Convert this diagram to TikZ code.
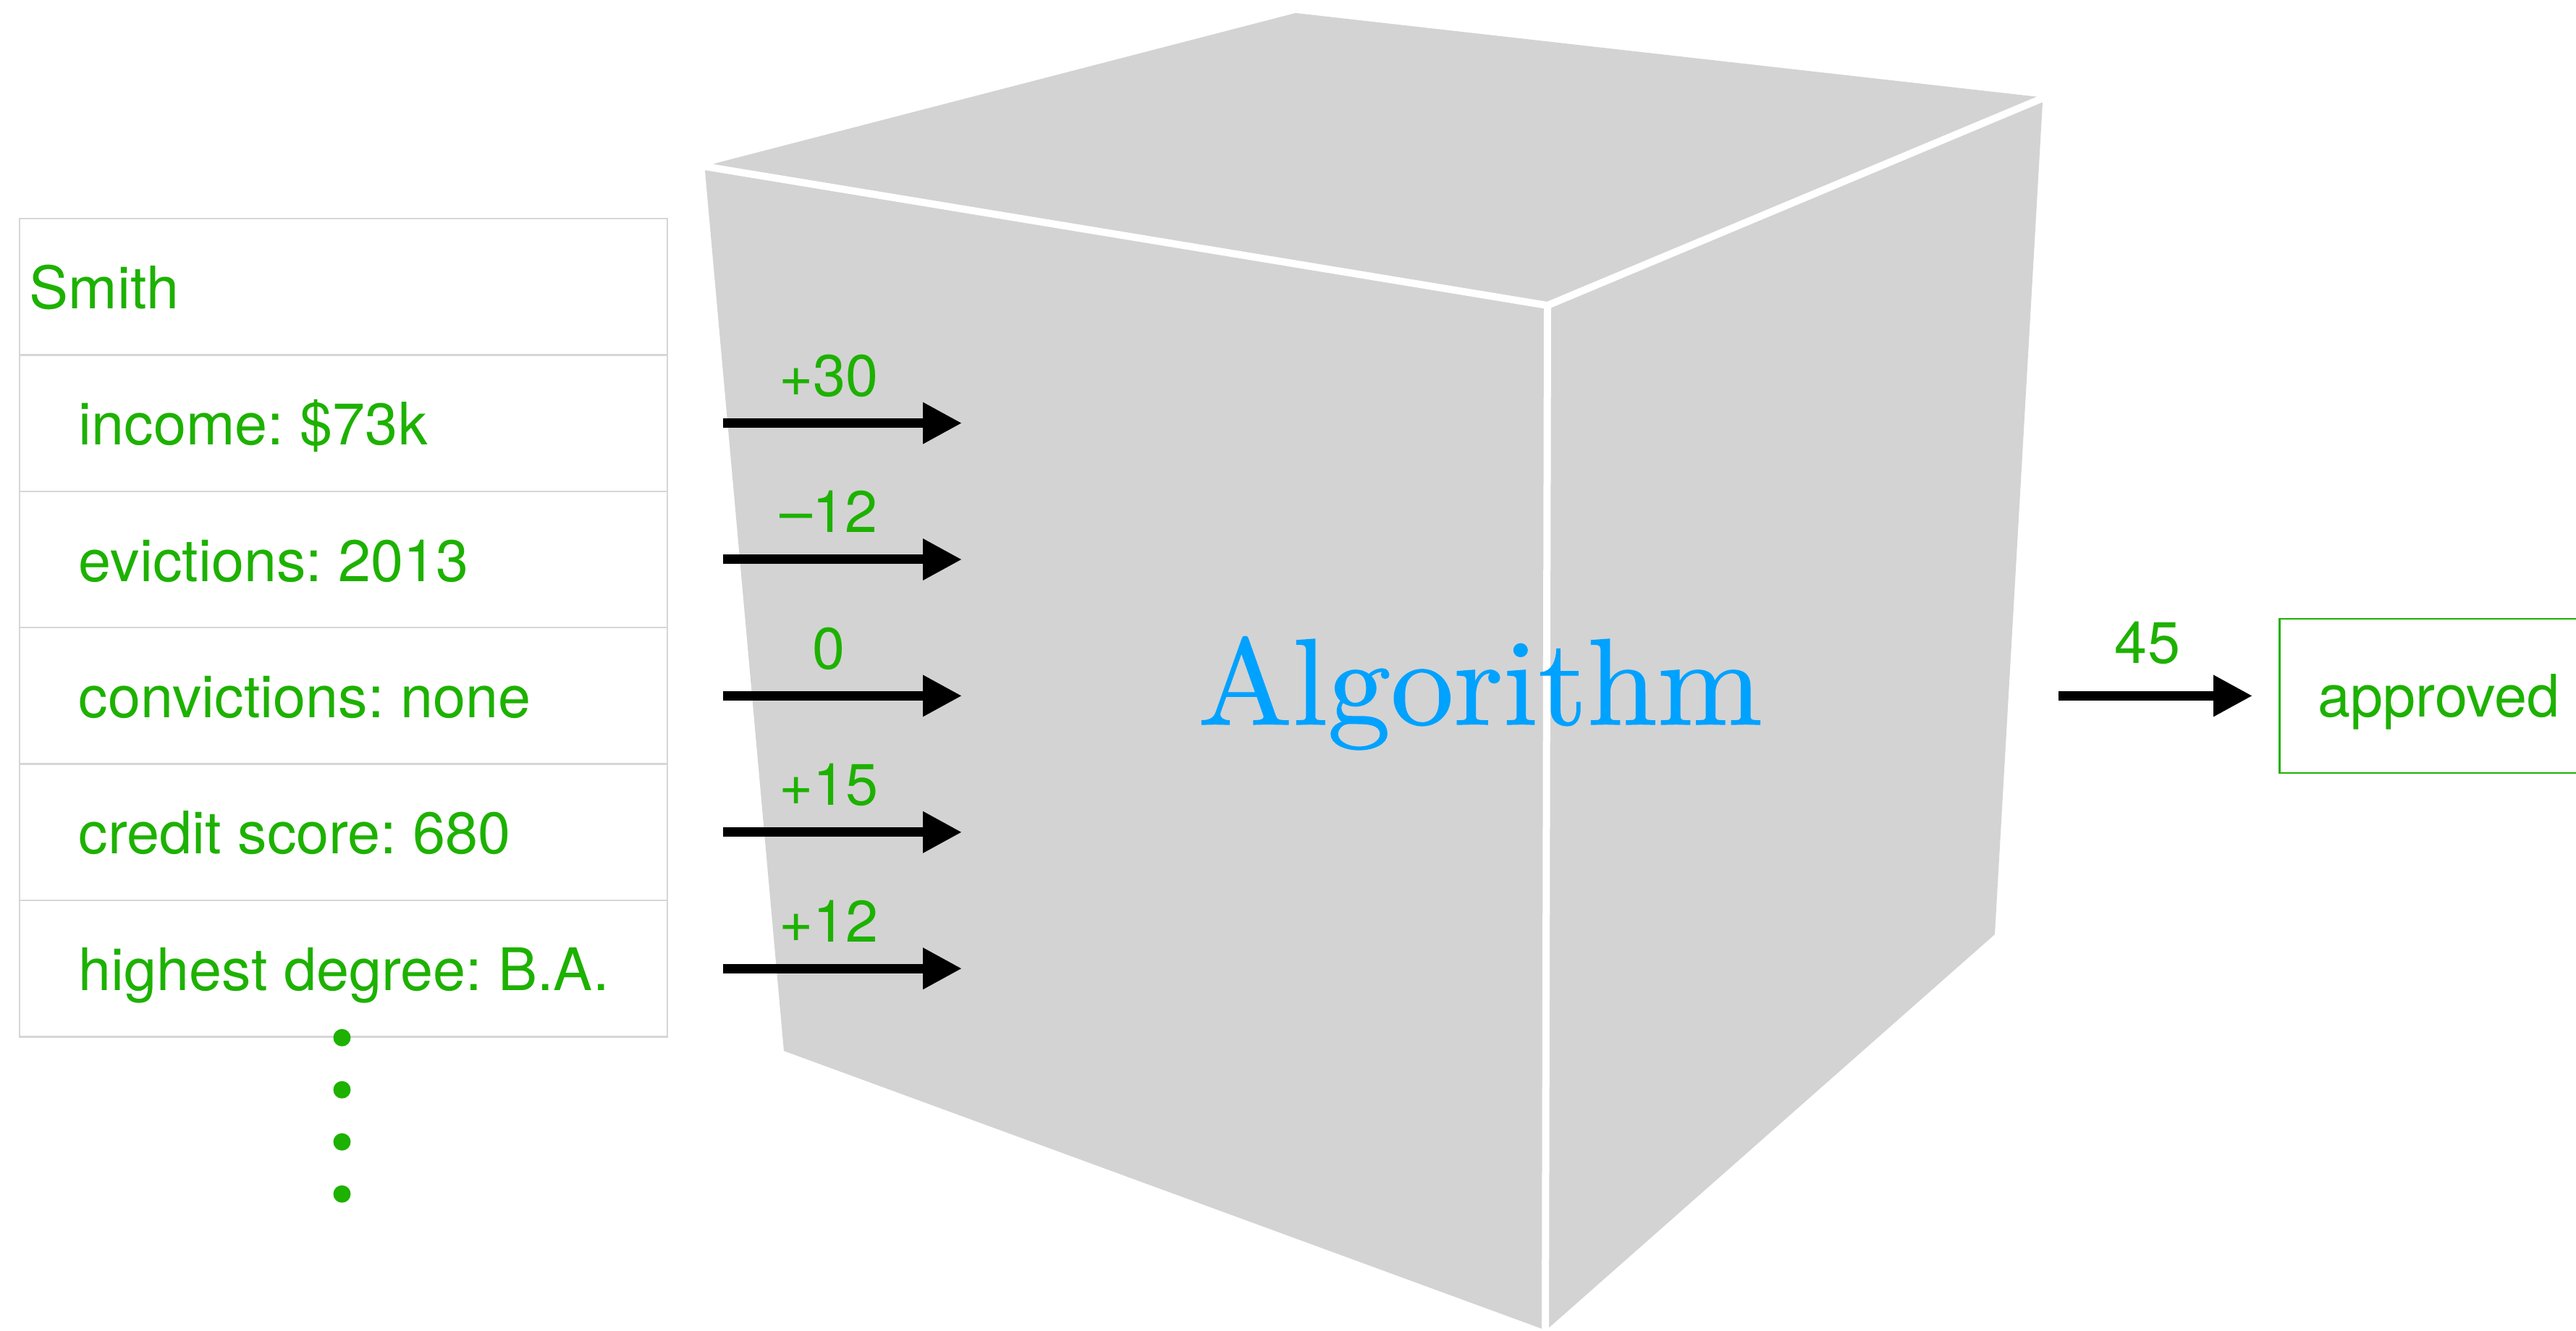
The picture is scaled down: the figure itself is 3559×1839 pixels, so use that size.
\documentclass[tikz,border=0pt]{standalone}
\usepackage{fontspec}
\newfontfamily\heros{TeX Gyre Heros}
\newfontfamily\algfont{lmroman10-regular.otf}[FakeStretch=1.025,FakeBold=0.8]
\usetikzlibrary{arrows.meta}
\definecolor{txtgreen}{RGB}{29,177,0}
\definecolor{algblue}{RGB}{0,162,255}
\definecolor{cubegray}{RGB}{211,211,211}
\definecolor{rulegray}{RGB}{214,214,214}
\frenchspacing

\begin{document}
\begin{tikzpicture}[x=0.25pt,y=-0.25pt,
  cell/.style={draw=rulegray, line width=0.625pt, minimum width=223.75pt,
    minimum height=47.1pt, inner sep=0pt},
  sanstext/.style={inner sep=0pt, text=txtgreen,
    font=\heros\fontsize{20.25pt}{24pt}\selectfont},
  fieldtext/.style={sanstext, anchor=base west},
  weight/.style={sanstext, anchor=base},
  feed/.style={line width=3.25pt, -{Triangle[length=13.5pt,width=13.5pt]}},
  ellipsisdot/.style={circle, fill=txtgreen, minimum size=6pt, inner sep=0pt},
  facegap/.style={white, line width=2.5pt}
]
\useasboundingbox (0,0) rectangle (3559,1839);
\clip (0,0) rectangle (3559,1839);

% the cube: one grey silhouette, faces split by white gaps
\fill[cubegray] (974,236) -- (987,226) -- (1790,18) -- (2817,134) -- (2822,142)
  -- (2756,1291) -- (2136,1838) -- (1083,1452) -- cycle;
\draw[facegap] (960,227.7) -- (2138,422) -- (2840,128.2);
\draw[facegap] (2138,422) -- (2135,1850);

\node[anchor=base, inner sep=0pt, text=algblue,
  font=\algfont\fontsize{42.5pt}{50pt}\selectfont]
  (alg) at (2045,1001) {Algorithm};

% record table
\node[cell] (cell0) at (474.5,396.2) {};
\node[cell] (cell1) at (474.5,584.6) {};
\node[cell] (cell2) at (474.5,773.0) {};
\node[cell] (cell3) at (474.5,961.4) {};
\node[cell] (cell4) at (474.5,1149.8) {};
\node[cell] (cell5) at (474.5,1338.2) {};

\node[fieldtext] (fname) at (40,426.2) {Smith};
\node[fieldtext] (f1) at (108,614.6) {income: \$73k};
\node[fieldtext] (f2) at (108,803.0) {evictions: 2013};
\node[fieldtext] (f3) at (108,991.4) {convictions: none};
\node[fieldtext] (f4) at (108,1179.8) {credit score: 680};
\node[fieldtext] (f5) at (108,1368.2) {highest degree: B.A.};

\node[ellipsisdot] (dot1) at (472.5,1433.7) {};
\node[ellipsisdot] (dot2) at (472.5,1505.7) {};
\node[ellipsisdot] (dot3) at (472.5,1577.7) {};
\node[ellipsisdot] (dot4) at (472.5,1649.7) {};

% weighted inputs
\coordinate (tip1) at (1329,584.6);
\coordinate (tip2) at (1329,773.0);
\coordinate (tip3) at (1329,961.4);
\coordinate (tip4) at (1329,1149.8);
\coordinate (tip5) at (1329,1338.2);
\draw[feed, shorten <=19pt] (cell1.east) -- (tip1);
\draw[feed, shorten <=19pt] (cell2.east) -- (tip2);
\draw[feed, shorten <=19pt] (cell3.east) -- (tip3);
\draw[feed, shorten <=19pt] (cell4.east) -- (tip4);
\draw[feed, shorten <=19pt] (cell5.east) -- (tip5);

\node[weight] (w1) at (1145,547.6) {+30};
\node[weight] (w2) at (1145,736.0) {\textendash12};
\node[weight] (w3) at (1145,924.4) {0};
\node[weight] (w4) at (1145,1112.8) {+15};
\node[weight] (w5) at (1145,1301.2) {+12};

% output
\node[sanstext, draw=txtgreen, line width=0.625pt, anchor=west,
  inner xsep=13.25pt, minimum height=53.25pt, text height=14.5pt,
  text depth=0pt] (appr) at (3148,961.4) {approved};
\coordinate (outs) at (2844,961.4);
\draw[feed, shorten >=9pt] (outs) -- (appr.west);
\node[weight] (wout) at (2967,917) {45};
\end{tikzpicture}
\end{document}
